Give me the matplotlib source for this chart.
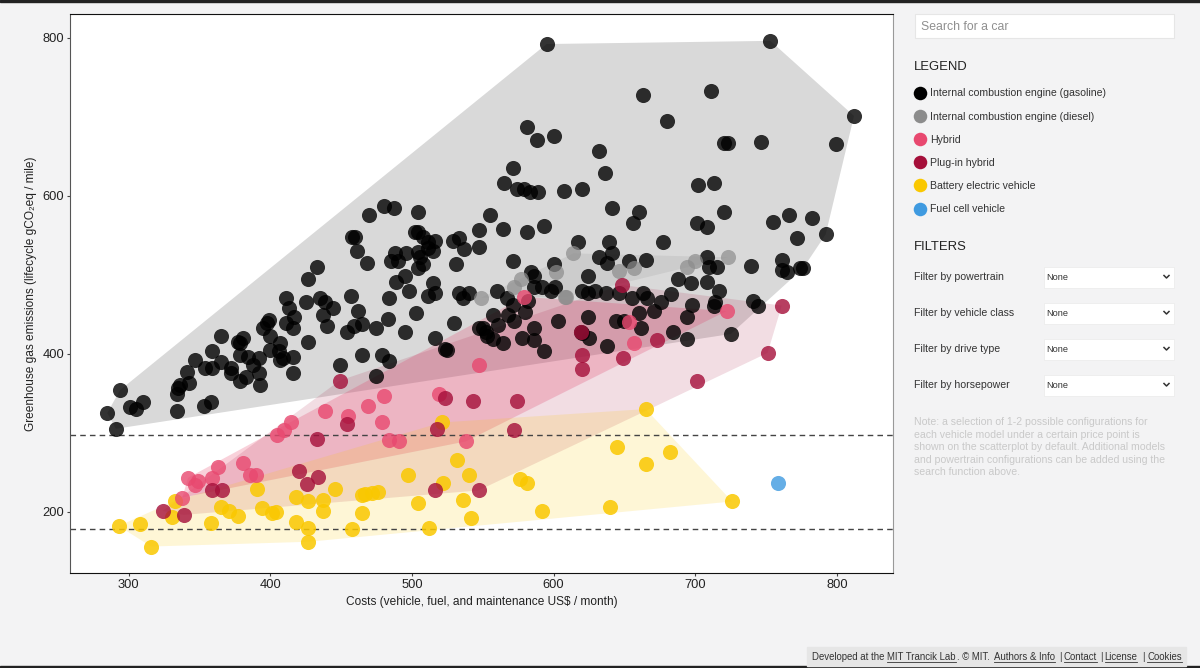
import matplotlib
matplotlib.use('Agg')
import matplotlib.pyplot as plt
from matplotlib.patches import Polygon, Rectangle

plt.rcParams['font.family'] = ['Liberation Sans', 'DejaVu Sans']

# values: costs (US$/month), emissions (gCO2eq/mile)
gas_cost = [480,487,470,504,555,458,460,461,468,502,504,508,516,511,529,533,547,547,537,531,
            488,485,490,496,504,511,515,506,508,504,495,489,498,484,515,516,511,533,540,536,
            433,427,457,462,411,413,425,435,439,444,437,503,483,475,465,459,454,440,495,530,
            516,523,525,427,416,411,417,399,395,398,400,407,400,406,416,409,407,416,365,377,
            381,379,379,384,392,388,392,393,383,379,372,372,359,347,365,359,354,341,343,336,
            335,334,334,358,353,310,305,301,294,285,291,449,465,479,484,475,550,553,547,
            595,753,812,663,711,680,581,588,600,632,636,720,723,746,799,571,565,574,579,583,
            589,607,620,702,713,564,581,593,641,660,656,701,708,720,755,766,782,772,792,617,
            639,677,571,600,632,641,638,653,665,708,710,715,739,761,761,765,774,776,584,586,
            586,592,601,598,624,688,697,708,620,624,629,637,646,560,567,571,582,655,663,666,
            676,683,698,717,714,741,744,580,557,568,561,572,552,557,564,578,586,586,593,603,
            624,619,620,625,638,644,650,660,671,662,694,713,684,694,725]
gas_ghg = [587,585,575,579,576,548,548,530,515,554,554,548,543,541,543,547,556,535,532,514,
           527,517,517,528,529,534,530,522,513,508,499,491,479,470,489,477,473,477,477,470,
           510,495,473,454,471,458,466,470,465,458,449,451,444,432,438,435,427,435,428,439,
           420,406,405,415,433,439,447,443,433,439,422,414,405,403,396,395,392,376,422,415,
           420,414,399,396,395,386,376,361,370,365,382,376,403,392,390,382,382,377,363,361,
           357,349,327,339,334,339,330,332,354,325,305,386,398,398,391,372,433,422,433,
           792,796,701,727,733,695,687,671,675,656,629,667,667,668,665,635,616,608,609,605,
           605,606,609,614,616,558,554,562,584,580,566,565,560,580,567,576,572,547,551,542,
           541,541,517,513,522,527,515,518,519,523,510,510,511,519,506,504,508,508,504,498,
           485,485,485,479,498,494,490,491,479,477,479,477,477,480,471,462,467,470,477,471,
           465,476,462,479,466,467,460,453,449,449,437,441,428,419,414,420,418,433,403,441,
           447,427,426,420,410,442,441,452,454,433,447,460,427,419,425]

diesel_cost = [614,602,577,572,549,609,608,646,657,694,700,723]
diesel_ghg = [527,503,494,485,471,472,472,505,509,510,517,522]

hybrid_cost = [547,439,469,480,479,455,484,491,519,538,415,410,405,381,363,386,390,359,342,
               347,349,338,579,722,653,657]
hybrid_ghg = [386,328,334,347,313,321,291,290,349,289,314,304,297,262,257,247,247,243,243,
              234,239,218,472,454,440,414]

plugin_cost = [449,523,543,454,433,518,420,434,426,359,366,324,339,516,547,574,572,620,620,
               649,673,701,751,761,648,619]
plugin_ghg = [366,344,340,311,292,305,252,244,235,227,227,201,196,227,227,340,304,399,381,
              395,418,365,401,461,487,427]

bev_cost = [293,308,316,333,331,358,391,365,371,377,394,401,404,418,418,427,437,437,446,427,
            427,458,465,465,467,472,476,497,504,512,522,532,540,536,542,521,
            665,645,665,682,726,576,581,592,640]
bev_ghg = [182,185,156,214,194,186,229,206,201,195,205,199,200,187,219,213,215,201,229,180,
           162,178,199,221,223,224,225,247,211,180,237,265,247,215,192,313,
           330,282,260,276,213,242,237,201,206]

fcv_cost = [758]
fcv_ghg = [236]

legend_labels = ['Internal combustion engine (gasoline)', 'Internal combustion engine (diesel)',
                 'Hybrid', 'Plug-in hybrid', 'Battery electric vehicle', 'Fuel cell vehicle']
filter_labels = ['Filter by powertrain', 'Filter by vehicle class', 'Filter by drive type',
                 'Filter by horsepower']
note_lines = ['Note: a selection of 1-2 possible configurations for',
              'each vehicle model under a certain price point is',
              'shown on the scatterplot by default. Additional models',
              'and powertrain configurations can be added using the',
              'search function above.']

BLACK = '#000000'
GRAY = '#8c8c8c'
PINK = '#e8486f'
MAROON = '#a50f3a'
YELLOW = '#fac800'
BLUE = '#3f9ae0'


def hull(xs, ys):
    # convex hull around one powertrain group
    pts = sorted(set(zip(xs, ys)))

    def half(points):
        out = []
        for p in points:
            while len(out) > 1 and ((out[-1][0] - out[-2][0]) * (p[1] - out[-2][1])
                                    - (out[-1][1] - out[-2][1]) * (p[0] - out[-2][0])) <= 0:
                out.pop()
            out.append(p)
        return out[:-1]

    return half(pts) + half(pts[::-1])


fig = plt.figure(figsize=(12, 6.68), dpi=100, facecolor='#f3f3f4')
ax = fig.add_axes([70 / 1200, 1 - 573 / 668, 823 / 1200, 559 / 668])
ax.set_facecolor('white')
ax.set_xlim(258.7, 839.5)
ax.set_ylim(122.5, 830)

for xs, ys, col, a in [(gas_cost, gas_ghg, '#000000', 0.15), (diesel_cost, diesel_ghg, '#000000', 0.06),
                       (hybrid_cost, hybrid_ghg, PINK, 0.25), (plugin_cost, plugin_ghg, MAROON, 0.14),
                       (bev_cost, bev_ghg, YELLOW, 0.16)]:
    ax.add_patch(Polygon(hull(xs, ys), closed=True, facecolor=col, edgecolor='none', alpha=a, zorder=1))

ax.axhline(297, color='#444444', lw=1, dashes=(4, 3), zorder=2)
ax.axhline(178, color='#444444', lw=1, dashes=(4, 3), zorder=2)

for xs, ys, col, a in [(gas_cost, gas_ghg, BLACK, 0.8), (diesel_cost, diesel_ghg, GRAY, 0.7),
                       (bev_cost, bev_ghg, YELLOW, 0.85), (hybrid_cost, hybrid_ghg, PINK, 0.8),
                       (plugin_cost, plugin_ghg, MAROON, 0.8), (fcv_cost, fcv_ghg, BLUE, 0.8)]:
    ax.scatter(xs, ys, s=118, color=col, alpha=a, linewidths=0, zorder=3)

ax.set_xticks([300, 400, 500, 600, 700, 800])
ax.set_yticks([200, 400, 600, 800])
ax.tick_params(labelsize=9.3, length=2.5, width=0.8, color='#444444', labelcolor='#222222', pad=1.5)
ax.set_xlabel('Costs (vehicle, fuel, and maintenance US$ / month)', fontsize=8.6, color='#222222', labelpad=4)
ax.set_ylabel('Greenhouse gas emissions (lifecycle gCO\u2082eq / mile)', fontsize=8.55, color='#222222', labelpad=4)
ax.spines['top'].set_color('#111111')
ax.spines['bottom'].set_color('#111111')
ax.spines['left'].set_color('#555555')
ax.spines['right'].set_color('#999999')

# page furniture on a pixel-sized overlay
ui = fig.add_axes([0, 0, 1, 1], zorder=-1)
ui.set_xlim(0, 1200)
ui.set_ylim(668, 0)
ui.axis('off')
ui.add_patch(Rectangle((0, 0), 1200, 2, color='#222222'))
ui.add_patch(Rectangle((0, 666), 1200, 2, color='#222222'))

ui.add_patch(Rectangle((915, 14), 259, 24, facecolor='white', edgecolor='#e6e6e6', lw=0.8))
ui.text(921, 26.5, 'Search for a car', fontsize=8.8, color='#8f8f8f', va='center')

ui.text(914, 67, 'LEGEND', fontsize=9.4, color='#222222', va='center')
legend_colors = [BLACK, GRAY, PINK, MAROON, YELLOW, BLUE]
for i, (lab, col) in enumerate(zip(legend_labels, legend_colors)):
    y = 93 + i * 23.1
    ui.scatter([920], [y], s=95, color=col, linewidths=0)
    ui.text(930.5, y + 0.5, lab, fontsize=7.6, color='#333333', va='center')

ui.text(914, 247.5, 'FILTERS', fontsize=9.4, color='#222222', va='center')
for i, lab in enumerate(filter_labels):
    y = 277 + i * 36
    ui.text(914, y, lab, fontsize=7.6, color='#333333', va='center')
    ui.add_patch(Rectangle((1044, y - 10.5), 130, 21, facecolor='white', edgecolor='#ececec', lw=0.6))
    ui.text(1046.5, y, 'None', fontsize=6.6, color='#333333', va='center')
    ui.plot([1164, 1166.5, 1169], [y - 1.5, y + 1, y - 1.5], color='#333333', lw=1.1)

for i, line in enumerate(note_lines):
    ui.text(914, 422 + i * 12.6, line, fontsize=7.6, color='#c9c9c9', va='center')

ui.add_patch(Rectangle((807, 647), 379, 19, color='#e6e6e6'))
footer = [(812.5, 'Developed at the ', False), (887, 'MIT Trancik Lab', True), (957, '. \u00a9 MIT. ', False),
          (993.5, 'Authors & Info', True), (1059, '|', False), (1063.5, 'Contact', True),
          (1100, '|', False), (1104.5, 'License', True), (1142, '|', False), (1147, 'Cookies', True)]
for x, s, under in footer:
    t = ui.text(x, 657, s, fontsize=6.95, color='#333333', va='center')
    if under:
        bb = t.get_window_extent(fig.canvas.get_renderer())
        ui.plot([x, x + bb.width], [662, 662], color='#333333', lw=0.6)

fig.savefig('out.png', dpi=100, facecolor=fig.get_facecolor())
